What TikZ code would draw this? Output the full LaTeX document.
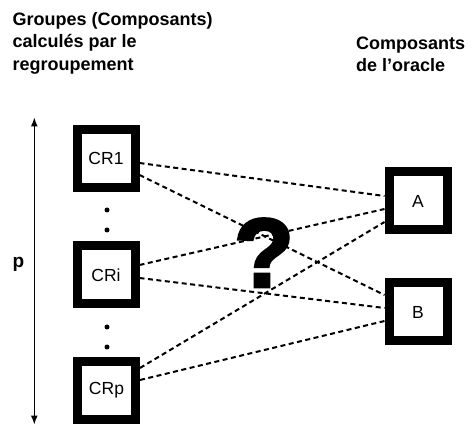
\documentclass[tikz,border=0pt]{standalone}
\usepackage{fontspec}
\setmainfont{Liberation Sans}
\newfontfamily\qmarkfont[FakeBold=3]{Liberation Sans Bold}
\usetikzlibrary{arrows.meta}
\tikzset{
  compbox/.style={draw=black, line width=9pt, fill=white, minimum width=58pt, minimum height=58pt, inner sep=0pt, font=\fontsize{17.5}{20}\selectfont},
  conn/.style={line width=2pt, dash pattern=on 5pt off 3.5pt},
  hdr/.style={font=\bfseries\fontsize{18}{22.5}\selectfont, align=left, inner sep=0pt},
  dotmark/.style={circle, fill=black, inner sep=0pt, minimum size=5pt}
}
\begin{document}
\begin{tikzpicture}[x=1pt, y=-1pt]
\useasboundingbox (0,0) rectangle (472,425);
% headers
\node[hdr, anchor=base west] (h1) at (12.5,70.5) {Groupes (Composants)\\calculés par le\\regroupement};
\node[hdr, anchor=base west] (h2) at (356,71.7) {Composants\\de l’oracle};
% boxes
\node[compbox] (cr1) at (106,158.5) {CR1};
\node[compbox] (cri) at (106,275) {CRi};
\node[compbox] (crp) at (106.5,390.5) {CRp};
\node[compbox] (a) at (418,201) {A};
\node[compbox] (b) at (418,312) {B};
% dots
\node[dotmark] (d1) at (107,210) {};
\node[dotmark] (d2) at (107,230) {};
\node[dotmark] (d3) at (107,327) {};
\node[dotmark] (d4) at (107,347) {};
% question mark
\node[font=\qmarkfont\fontsize{98}{98}\selectfont, anchor=base, inner sep=0pt] (q) at (264,287) {?};
% connectors
\draw[conn] ([yshift=-4.5pt]cr1.east) -- ([yshift=5pt]a.west);
\draw[conn] ([yshift=-16.5pt]cr1.east) -- ([yshift=17pt]b.west);
\draw[conn] ([yshift=10pt]cri.east) -- ([yshift=-8pt]a.west);
\draw[conn] ([yshift=-3pt]cri.east) -- ([yshift=4pt]b.west);
\draw[conn] ([yshift=22.5pt]crp.east) -- ([yshift=-21pt]a.west);
\draw[conn] ([yshift=10.5pt]crp.east) -- ([yshift=-9pt]b.west);
% p arrow
\coordinate (ptop) at (34.3,117.5);
\coordinate (pbot) at (34.3,424.5);
\draw[line width=1.3pt, {Latex[length=9pt,width=7pt]}-{Latex[length=9pt,width=7pt]}] (ptop) -- (pbot);
\node[font=\bfseries\fontsize{19}{22}\selectfont, anchor=base west, inner sep=0pt] (p) at (12.5,268) {p};
\end{tikzpicture}
\end{document}
